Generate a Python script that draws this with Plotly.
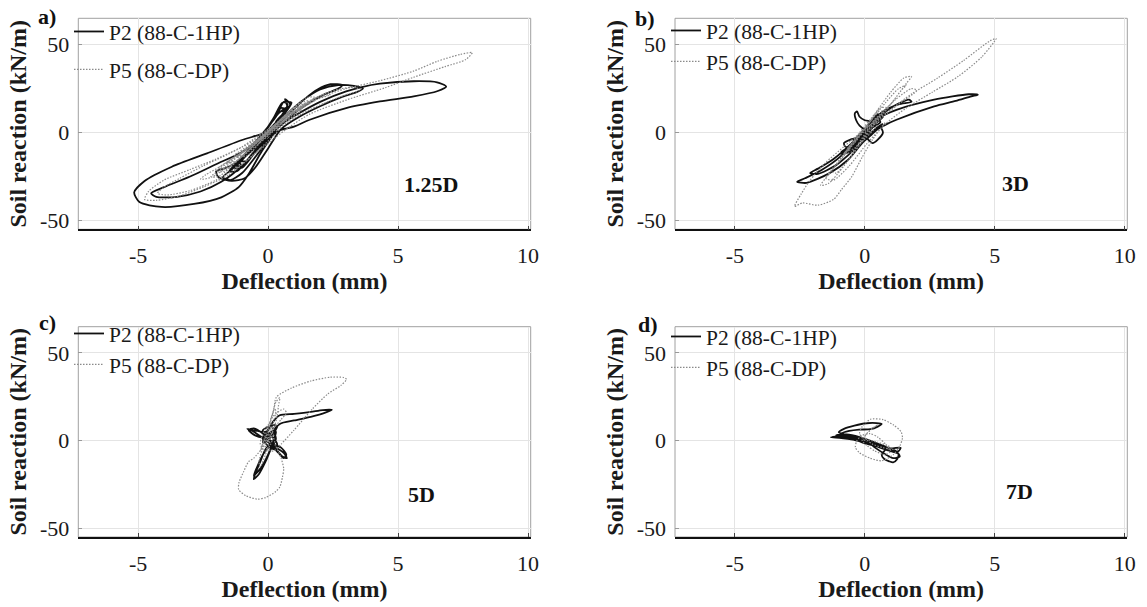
import plotly.graph_objects as go

# ---------------- data ----------------
PANEL_LABELS = ["a)", "b)", "c)", "d)"]
DEPTH_LABELS = ["1.25D", "3D", "5D", "7D"]
SERIES_NAMES = ["P2 (88-C-1HP)", "P5 (88-C-DP)"]
X_TICKS = [-5, 0, 5, 10]
X_TICK_TEXT = ["-5", "0", "5", "10"]
Y_TICKS = [-50, 0, 50]
Y_TICK_TEXT = ["-50", "0", "50"]

# panel a) 1.25D  (deflection mm, soil reaction kN/m)
A_P2 = [(0.0, 0.0), (0.5, 8), (0.75, 14), (0.65, 19), (0.85, 16), (0.5, 9), (0.0, 1), (-0.6, -9), (-1.1, -17),
        (-1.0, -18.5), (-0.5, -11), (0.1, 0), (0.6, 10), (0.9, 17), (0.55, 17), (0.2, 8), (-0.3, -3), (-0.9, -13),
        (-1.4, -21), (-1.75, -25.5), (-1.45, -27), (-1.0, -23), (-0.5, -14), (0.0, -4), (0.4, 4),
        (0.3, 6), (0.7, 13), (0.5, 14), (0.1, 5), (-0.4, -5), (-0.9, -14), (-1.2, -19), (-0.9, -18), (-0.4, -8),
        (0.2, 3), (0.6, 11), (0.8, 15), (0.4, 11), (-0.1, 1), (-0.7, -10), (-1.3, -20), (-1.0, -20), (-0.3, -7),
        (0.3, 4), (0.65, 12), (0.45, 12), (0.0, 3), (-0.6, -8), (-1.1, -16), (-0.8, -16), (-0.2, -5),
        (0.35, 6), (0.75, 16), (0.6, 17.5), (0.3, 9), (-0.3, -2), (-1.0, -14), (-1.5, -22), (-1.2, -22),
        (-0.6, -12), (0.0, -1),
        (0.9, 12), (1.4, 19), (1.9, 24.5), (2.4, 27.5), (2.85, 27), (2.7, 25), (2.2, 22), (1.6, 17), (1.0, 11),
        (0.4, 3), (-0.3, -6), (-1.0, -15),
        (-1.6, -20), (-2.0, -22), (-1.9, -25.5), (-1.4, -27.5), (-0.9, -26), (-0.5, -20), (0.0, -9), (0.5, 2),
        (1.2, 9), (2.0, 15), (2.8, 20), (3.4, 23), (3.65, 25), (3.3, 26.5), (2.7, 27), (2.0, 24.5), (1.3, 18),
        (0.6, 9), (-0.2, -2), (-1.0, -11),
        (-2.0, -18), (-3.0, -25), (-4.0, -31), (-4.5, -34.5), (-4.3, -36.5), (-3.5, -36.5), (-2.6, -33.5),
        (-1.8, -28), (-1.0, -19), (-0.3, -8), (0.4, 1),
        (1.0, 3.4), (1.6, 7.3), (3.0, 13.9), (4.3, 17.7), (5.6, 20.6), (6.5, 23.5), (6.85, 26.2), (6.5, 28.6),
        (5.6, 29.2), (4.3, 27.8), (3.6, 25.9), (3.0, 23.4), (2.0, 17.5), (1.0, 9.5), (0.0, 0.5), (-1.0, -4.2),
        (-2.35, -11.8), (-3.7, -19.4), (-4.75, -27.5), (-5.15, -34), (-4.95, -39.5), (-4.1, -42.3), (-2.85, -40.6),
        (-1.8, -36.8), (-1.13, -31), (-0.74, -23.4), (-0.3, -12), (0.2, -1)]
A_P5 = [(0.0, 0.0), (0.6, 7), (1.2, 14), (1.6, 18), (1.3, 17.5), (0.6, 9), (0.0, 1), (-0.7, -8), (-1.4, -15),
        (-1.9, -20), (-1.6, -20.5), (-0.9, -12), (-0.2, -3), (0.5, 5), (1.1, 12), (1.9, 19), (2.4, 21.5),
        (2.1, 21.5), (1.4, 16), (0.6, 8), (-0.2, -2), (-1.0, -11), (-1.8, -19), (-2.4, -24), (-2.6, -26.5),
        (-2.2, -25.5), (-1.4, -18), (-0.5, -8), (0.3, 2),
        (0.8, 9), (1.4, 15), (1.0, 14), (0.3, 5), (-0.4, -4), (-1.1, -12), (-1.6, -17), (-1.2, -16), (-0.5, -6),
        (0.2, 3), (0.9, 11), (1.6, 17), (1.2, 16), (0.5, 7), (-0.3, -3), (-1.2, -14), (-2.0, -22), (-1.7, -22),
        (-0.9, -12), (-0.1, -1),
        (0.6, 6), (1.1, 11), (0.8, 11), (0.2, 3), (-0.6, -6), (-1.3, -13), (-1.0, -13), (-0.3, -4), (0.4, 5),
        (1.0, 13), (1.8, 20), (1.5, 20), (0.8, 12), (0.0, 1), (-0.8, -9), (-1.6, -19), (-2.2, -25), (-1.9, -25),
        (-1.1, -15), (-0.3, -4),
        (1.2, 10), (2.2, 17), (3.0, 21.5), (3.5, 24), (3.4, 25.5), (2.8, 25), (2.0, 21), (1.2, 14), (0.3, 5),
        (-0.6, -5),
        (-1.5, -12), (-2.5, -19), (-3.4, -26), (-4.0, -31), (-4.25, -34.5), (-3.9, -35.5), (-3.0, -33),
        (-2.0, -27), (-1.0, -18), (0.0, -6), (0.8, 3),
        (1.6, 10.5), (3.0, 18.5), (4.5, 25.5), (5.6, 31.5), (6.8, 37.5), (7.6, 41.5), (7.85, 45.5), (7.4, 44.5),
        (6.5, 40.5), (5.6, 35), (4.3, 29.5), (3.0, 25), (2.0, 20), (1.0, 12), (0.0, 2), (-1.0, -8), (-2.0, -15),
        (-3.0, -21), (-4.0, -27), (-4.6, -33.5), (-4.75, -38), (-4.3, -38.5), (-3.4, -36), (-2.5, -31),
        (-1.5, -24), (-0.6, -13), (0.2, -2),
        (0.7, 6), (1.3, 13), (0.8, 11), (0.2, 3), (-0.5, -6), (-1.2, -14), (-0.8, -13), (-0.2, -4), (0.4, 4)]

# panel b) 3D
B_P2 = [(0.0, 0.0), (0.3, 5), (0.6, 9), (0.5, 10.5), (0.2, 5), (-0.2, -2), (-0.6, -8), (-0.9, -11),
        (-0.7, -11.5), (-0.3, -5), (0.1, 2), (0.3, 6), (0.0, 7), (-0.2, 9), (-0.3, 12), (-0.38, 11),
        (-0.33, 7), (-0.2, 4), (0.0, 2), (0.3, 3), (0.6, 6), (0.5, 8), (0.1, 3), (-0.3, -3), (-0.55, -4),
        (-0.8, -6), (-0.75, -8), (-0.5, -8.5), (-0.3, -6), (0.0, -3),
        (0.4, 5), (0.7, 9), (0.4, 9), (0.0, 2), (-0.5, -7), (-0.9, -12), (-0.6, -11), (-0.1, -3),
        (0.3, 4), (0.55, 7), (0.35, 7), (-0.1, 0), (-0.4, -6), (-0.7, -9), (-0.45, -9), (0.0, -1),
        (0.5, 8), (0.9, 13), (1.3, 16.5), (1.7, 18.7), (1.8, 17.5), (1.3, 16), (0.7, 12), (0.2, 5),
        (-0.4, -5), (-0.94, -13.7), (-1.66, -21.3), (-2.3, -26), (-2.6, -28), (-2.24, -28.6), (-1.37, -23.2),
        (-0.65, -15.6), (-0.1, -6), (0.4, 1),
        (0.79, 4.4), (1.22, 7.3), (2.67, 14.9), (3.5, 18), (4.1, 20.6), (4.35, 21.5), (4.0, 21.8), (2.67, 18.7),
        (1.22, 12.9), (0.5, 8), (0.0, 2), (-0.5, -6),
        (-1.2, -15), (-1.8, -20.5), (-2.1, -23), (-1.8, -23.5), (-1.1, -18.5), (-0.5, -11), (0.2, -2),
        (0.6, 3), (0.7, 0), (0.5, -4), (0.3, -6), (0.1, -3), (0.4, 2), (0.7, 5)]
B_P5 = [(0.0, 0.0), (0.5, 8), (1.0, 16), (1.4, 24), (1.6, 27), (1.3, 25), (0.8, 17), (0.2, 6), (-0.4, -5),
        (-0.9, -15), (-1.3, -22), (-1.1, -23), (-0.6, -15), (0.0, -3), (0.6, 9), (1.2, 20), (1.6, 28), (1.8, 32),
        (1.5, 31), (1.0, 23), (0.4, 11), (-0.2, 0), (-0.8, -12), (-1.4, -24), (-1.7, -30), (-1.4, -29),
        (-0.8, -19), (-0.2, -7), (0.5, 5),
        (0.3, 6), (0.7, 12), (0.5, 12), (0.1, 4), (-0.4, -6), (-0.8, -12), (-0.5, -11), (0.0, -2),
        (0.4, 7), (0.9, 14), (0.6, 14), (0.2, 6), (-0.3, -3), (-0.7, -10), (-0.4, -9), (0.1, 1),
        (1.2, 15), (2.0, 24), (1.8, 25), (1.2, 19), (0.5, 9), (-0.3, -4), (-1.0, -17), (-1.5, -26), (-1.2, -27),
        (-0.6, -19), (0.1, -6),
        (0.8, 5), (1.6, 14), (2.6, 23), (3.6, 32), (4.5, 43), (5.05, 53.5), (4.8, 52), (3.8, 41), (2.8, 31),
        (1.8, 22), (0.9, 12), (0.0, 2), (-0.8, -8), (-1.5, -17), (-2.1, -27), (-2.45, -35), (-2.7, -42),
        (-2.4, -40), (-1.8, -41.3), (-1.2, -38), (-0.9, -32.5), (-0.5, -25), (-0.1, -14), (0.3, -4), (0.8, 6)]

# panel c) 5D
C_P2 = [(0.0, 0.0), (0.2, 4), (0.35, 8), (0.2, 9), (-0.1, 5), (-0.4, 5.5), (-0.8, 6.7), (-0.6, 5.5),
        (-0.3, 2.5), (0.0, -1), (0.3, -4), (0.6, -7), (0.72, -10), (0.55, -9), (0.3, -5), (0.1, -2), (-0.1, -5),
        (-0.3, -12), (-0.5, -19), (-0.55, -22), (-0.35, -19), (-0.1, -12), (0.1, -5), (0.3, 1),
        (0.2, 5), (0.0, 4), (-0.2, 1), (0.0, -3), (0.25, -5), (0.35, -2), (0.15, 2), (-0.1, 3), (-0.2, -1),
        (0.45, 9.5), (1.0, 11.5), (1.64, 13.6), (2.2, 16), (2.45, 17.6), (2.1, 17.4), (1.64, 16.4), (1.0, 15.3),
        (0.45, 14.5), (0.2, 11), (0.0, 6), (-0.2, 2), (-0.5, 3), (-0.75, 6), (-0.55, 7), (-0.2, 4),
        (0.2, -2), (0.5, -4), (0.7, -8), (0.6, -10), (0.4, -7), (0.1, -3), (-0.2, -8), (-0.45, -16),
        (-0.55, -20), (-0.3, -16), (0.0, -8), (0.2, 0), (0.3, 5), (0.1, 8), (-0.2, 6), (-0.1, 2), (0.2, -1)]
C_P5 = [(0.0, 0.0), (0.2, 6), (0.35, 14), (0.4, 20), (0.45, 24.5), (0.3, 22), (0.15, 14), (0.0, 5),
        (-0.2, -4), (-0.35, -12), (-0.3, -15), (-0.1, -8), (0.1, 2), (0.2, 10), (0.3, 17), (0.25, 18),
        (0.05, 10), (-0.15, 1), (-0.3, -6),
        (-0.1, 2), (0.1, 7), (0.0, 9), (-0.2, 4), (-0.3, -2), (-0.1, -6), (0.1, -2), (0.2, 3),
        (-0.55, -10), (-0.75, -12), (-0.95, -18), (-1.12, -24), (-1.13, -28), (-0.85, -31.5), (-0.4, -33.4),
        (-0.1, -32.5), (0.3, -29), (0.45, -26.5), (0.55, -21), (0.6, -16), (0.5, -10), (0.3, -3), (0.15, 6),
        (0.1, 12), (0.2, 16), (0.32, 24.8), (0.9, 30), (1.64, 34), (2.4, 36.2), (2.9, 36), (3.02, 35),
        (2.8, 31.5), (2.3, 26.7), (1.7, 18), (0.98, 5.7), (0.5, -2), (0.2, -6), (-0.1, -4), (-0.05, 0),
        (0.1, 5), (0.5, 12), (0.7, 16), (0.6, 18), (0.2, 14), (0.0, 8)]

# panel d) 7D
D_P2 = [(0.0, 0.0), (-0.4, 1.5), (-0.9, 2.5), (-1.3, 1.9), (-0.9, 1.5), (-0.4, 0.5), (0.1, -1), (0.6, -3),
        (1.0, -4.5), (1.38, -4), (1.3, -6), (0.9, -5.5), (0.4, -3), (-0.1, -1), (-0.6, 2.5), (-1.0, 4.8),
        (-0.8, 6.7), (-0.4, 8.5), (0.07, 9.9), (0.45, 10), (0.65, 9.5), (0.5, 8), (0.22, 6.5), (-0.22, 6.3),
        (-0.6, 5.5), (-0.9, 4), (-0.5, 2), (0.0, 0.5), (0.5, -2), (0.8, -4.8), (0.65, -8), (0.75, -10.5),
        (0.94, -11.8), (1.09, -12.4), (1.25, -10.5), (1.3, -7.6), (1.0, -6), (0.6, -4), (0.2, -2), (-0.3, 0),
        (-0.8, 2), (-1.1, 3), (-0.7, 3.5), (-0.2, 2), (0.3, -0.5), (0.8, -3.5), (1.2, -6), (1.35, -9),
        (1.1, -10), (0.7, -7), (0.3, -3)]
D_P5 = [(0.0, 0.0), (-0.2, 4), (-0.1, 8), (0.22, 12.2), (0.7, 12), (1.1, 9), (1.4, 5), (1.45, 1.5),
        (1.35, -3), (1.1, -8), (0.65, -11.5), (0.2, -10), (-0.2, -7), (-0.36, -3.8), (-0.3, 0), (-0.1, 3),
        (0.2, 4), (0.5, 2), (0.8, -2), (1.0, -6), (0.8, -8), (0.4, -6), (0.1, -3), (-0.1, 0), (0.2, 6),
        (0.5, 9), (0.3, 7), (0.0, 2), (0.3, -2), (0.7, -4), (1.1, -5), (0.9, -3), (0.5, -1), (0.0, 1)]

P2_DATA = [A_P2, B_P2, C_P2, D_P2]
P5_DATA = [A_P5, B_P5, C_P5, D_P5]

# ---------------- layout constants ----------------
W, H = 1147, 607
FONT = "Liberation Serif, Times New Roman, serif"
X_RANGE = [-7.3, 10.1]
Y_RANGE = [-55, 65]
X_DOMAINS = [[78.3 / W, 530.7 / W], [675 / W, 1127.3 / W]]
Y_DOMAINS = [[1 - 229.3 / H, 1 - 18.3 / H], [1 - 537 / H, 1 - 326.7 / H]]
LEGEND_POS = [(69 / W, 1 - 11 / H, 7), (666 / W, 1 - 10 / H, 0), (69 / W, 1 - 313 / H, 0), (666 / W, 1 - 316 / H, 0)]
PANEL_LABEL_POS = [(47 / W, 1 - 17 / H), (645 / W, 1 - 18 / H), (47 / W, 1 - 322 / H), (648 / W, 1 - 324 / H)]
DEPTH_POS = [(5.15, -29.5), (5.2, -29.2), (5.3, -30.5), (5.35, -29)]

fig = go.Figure()
layout = dict(
    width=W, height=H, margin=dict(l=0, r=0, t=0, b=0),
    paper_bgcolor="white", plot_bgcolor="white",
    font=dict(family=FONT, size=22, color="#1a1a1a"),
    shapes=[], annotations=[],
)

for i in range(4):
    col, row = i % 2, i // 2
    sfx = "" if i == 0 else str(i + 1)
    xa, ya = "x" + sfx, "y" + sfx
    leg = "legend" + sfx
    for k, (data, color, dash, width) in enumerate([
            (P2_DATA[i], "#111111", "solid", 1.8),
            (P5_DATA[i], "#8a8a8a", "1.5px,1.5px", 1.2)]):
        xs = [p[0] for p in data]
        ys = [p[1] for p in data]
        fig.add_trace(go.Scatter(
            x=xs, y=ys, mode="lines", name=SERIES_NAMES[k],
            line=dict(color=color, dash=dash, width=width, shape="spline", smoothing=0.7),
            xaxis=xa, yaxis=ya, legend=leg, legendgroup=f"{i}-{k}", showlegend=True,
        ))
    lx, ly, gap = LEGEND_POS[i]
    layout[leg] = dict(x=lx, y=ly, xanchor="left", yanchor="top", bgcolor="rgba(0,0,0,0)",
                       borderwidth=0, font=dict(family=FONT, size=21.5, color="#1a1a1a"),
                       tracegroupgap=gap, traceorder="grouped")
    layout["xaxis" + sfx] = dict(
        domain=X_DOMAINS[col], range=X_RANGE, anchor=ya,
        tickvals=X_TICKS, ticktext=X_TICK_TEXT, ticks="inside", ticklen=4, tickcolor="#444",
        showgrid=True, gridcolor="#e4e4e4", gridwidth=1, zeroline=False,
        showline=True, linecolor="#111111", linewidth=1.5, mirror=False,
        tickfont=dict(family=FONT, size=22, color="#1a1a1a"), ticklabelstandoff=6,
        title=dict(text="<b>Deflection (mm)</b>", font=dict(family=FONT, size=24, color="#1a1a1a"), standoff=5),
        automargin=False,
    )
    layout["yaxis" + sfx] = dict(
        domain=Y_DOMAINS[row], range=Y_RANGE, anchor=xa,
        tickvals=Y_TICKS, ticktext=Y_TICK_TEXT, ticks="inside", ticklen=4, tickcolor="#999",
        showgrid=True, gridcolor="#e4e4e4", gridwidth=1, zeroline=False,
        showline=False,
        tickfont=dict(family=FONT, size=22, color="#1a1a1a"), ticklabelstandoff=8,
        title=dict(text="<b>Soil reaction (kN/m)</b>", font=dict(family=FONT, size=24, color="#1a1a1a"), standoff=6),
        automargin=False,
    )
    layout["shapes"].append(dict(type="rect", xref=xa + " domain", yref=ya + " domain", x0=0, x1=1, y0=0, y1=1,
                                 line=dict(color="#a0a0a0", width=1), layer="below"))
    px, py = PANEL_LABEL_POS[i]
    layout["annotations"].append(dict(text="<b>" + PANEL_LABELS[i] + "</b>", xref="paper", yref="paper",
                                      x=px, y=py, showarrow=False, xanchor="center", yanchor="middle",
                                      font=dict(family=FONT, size=22, color="#111")))
    dx, dy = DEPTH_POS[i]
    layout["annotations"].append(dict(text="<b>" + DEPTH_LABELS[i] + "</b>", xref=xa, yref=ya,
                                      x=dx, y=dy, showarrow=False, xanchor="left", yanchor="middle",
                                      font=dict(family=FONT, size=22, color="#111")))

fig.update_layout(**layout)
fig.write_html("out.html", config={"displayModeBar": False},
               post_script="document.body.style.margin='0px';document.body.style.padding='0px';")
